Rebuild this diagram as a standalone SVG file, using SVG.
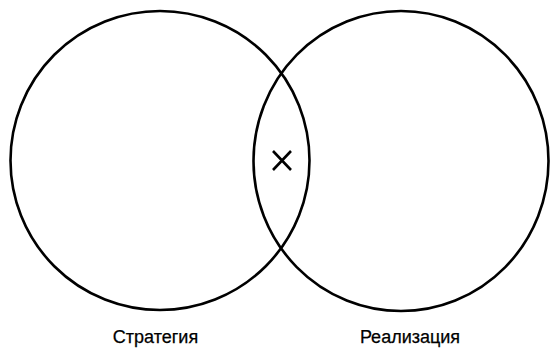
<svg xmlns="http://www.w3.org/2000/svg" width="551" height="349" viewBox="0 0 551 349">
<style>
.c{fill:none;stroke:#000;stroke-width:2.6}
.t{font-family:"Liberation Sans",Arial,sans-serif;font-size:18px;fill:#000;text-anchor:middle;stroke:#000;stroke-width:0.25}
.x{stroke:#000;stroke-width:2.6;fill:none}
</style>
<rect width="551" height="349" fill="#fff"/>
<g id="strategy">
<ellipse class="c" cx="160" cy="160.5" rx="149.5" ry="149.5"/>
<text class="t" x="155.5" y="343">Стратегия</text>
</g>
<g id="realization">
<ellipse class="c" cx="401" cy="161" rx="147.5" ry="150"/>
<text class="t" x="410" y="343">Реализация</text>
</g>
<g id="intersection">
<path class="x" d="M273,151 L291,170 M291,151 L273,170"/>
</g>
<g id="connectors"/>
</svg>
